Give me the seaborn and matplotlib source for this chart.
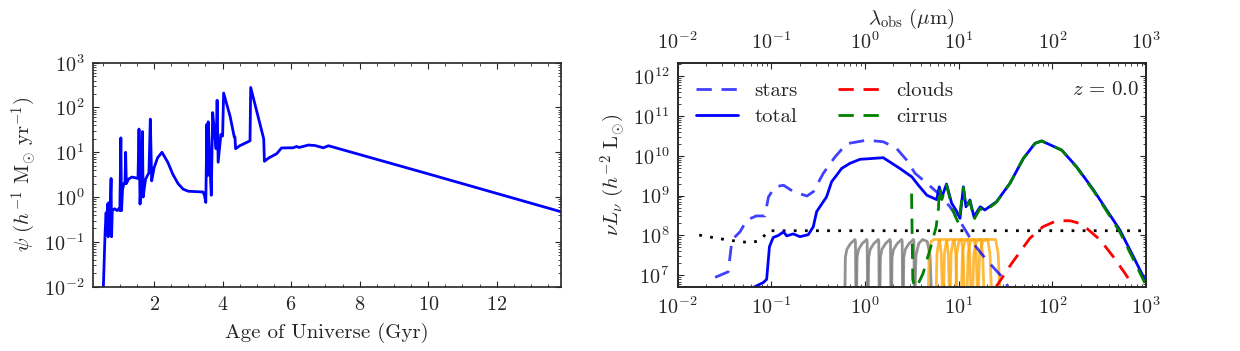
import numpy as np
import matplotlib
matplotlib.use("Agg")
import matplotlib.pyplot as plt
import seaborn as sns

# ---- left panel: star formation history (age in Gyr, SFR)
age = [0.52, 0.57, 0.60, 0.62, 0.64, 0.66, 0.68, 0.70, 0.72, 0.745, 0.76, 0.78,
       0.85, 0.92, 0.97, 1.00, 1.03, 1.05, 1.08, 1.12, 1.15, 1.17, 1.19, 1.25,
       1.35, 1.45, 1.53, 1.56, 1.59, 1.62, 1.66, 1.68, 1.75, 1.85, 1.89, 1.93,
       2.0, 2.1, 2.23, 2.4, 2.55, 2.7, 2.85, 3.0, 3.43, 3.47, 3.51, 3.54, 3.56,
       3.58, 3.62, 3.67, 3.71, 3.76, 3.81, 3.84, 3.87, 3.95, 4.0, 4.03, 4.22,
       4.34, 4.36, 4.38, 4.5, 4.8, 4.82, 5.2, 5.22, 5.35, 5.58, 5.72, 6.06,
       6.16, 6.23, 6.35, 6.5, 6.69, 6.94, 7.09, 10.0, 13.88]
sfr = [0.01, 0.16, 0.45, 0.15, 0.7, 0.13, 0.75, 0.14, 0.6, 2.6, 0.13, 0.5,
       0.55, 0.5, 0.55, 0.5, 21, 0.5, 1.5, 2.0, 2.0, 10, 2.0, 2.5,
       2.8, 2.7, 2.6, 33, 0.7, 2.5, 29, 1.0, 2.5, 3.5, 55, 2.3,
       4.5, 7.5, 10, 6.0, 3.2, 2.0, 1.5, 1.35, 1.3, 1.1, 0.76, 42, 3.0,
       48, 8.0, 1.1, 77, 30, 12, 145, 6.0, 25, 23, 210, 63,
       22, 22, 12, 14, 18, 280, 20, 6.3, 7.5, 9.3, 12.5, 12.6,
       13.5, 12.8, 13.5, 14.5, 14.2, 12.6, 14, 3.3, 0.47]

# ---- right panel: SED components, log10(lambda/um) and log10(nu L_nu)
stars_lw = [-1.60, -1.46, -1.42, -1.335, -1.26, -1.16, -1.07, -1.03, -0.96, -0.87,
            -0.765, -0.62, -0.55, -0.445, -0.32, -0.196, 0.018, 0.195, 0.338,
            0.445, 0.534, 0.66, 0.78, 0.907, 1.05, 1.156, 1.30, 1.46, 1.55]
stars_lL = [6.95, 7.09, 7.89, 8.09, 8.39, 8.49, 8.49, 8.97, 9.22, 9.26,
            9.10, 8.99, 9.10, 9.56, 9.97, 10.30, 10.39, 10.35, 10.18,
            9.89, 9.56, 9.31, 9.06, 8.72, 8.22, 7.80, 7.38, 6.97, 6.63]

total_lw = [-1.19, -1.086, -1.05, -1.02, -0.98, -0.926, -0.87, -0.836, -0.766,
            -0.694, -0.606, -0.552, -0.516, -0.41, -0.356, -0.30, -0.25, -0.16,
            -0.053, 0.195, 0.373, 0.50, 0.57, 0.66, 0.765, 0.793, 0.82, 0.87,
            0.925, 0.98, 1.014, 1.05, 1.078, 1.12, 1.163, 1.23, 1.28, 1.405,
            1.548, 1.69, 1.815, 1.886, 2.10, 2.26, 2.44, 2.58, 2.72, 2.865, 2.99]
total_lL = [6.70, 6.82, 6.90, 7.72, 7.95, 8.00, 8.09, 7.99, 8.04,
            7.97, 8.02, 8.22, 8.60, 8.97, 9.35, 9.52, 9.68, 9.81,
            9.91, 9.95, 9.68, 9.47, 9.26, 9.01, 8.90, 9.22, 8.96, 9.29,
            8.81, 8.60, 8.43, 9.22, 8.72, 8.89, 8.47, 8.72, 8.64, 8.85,
            9.31, 9.93, 10.31, 10.37, 10.14, 9.72, 9.14, 8.64, 8.14, 7.47, 6.88]

clouds_lw = [1.39, 1.566, 1.76, 1.90, 2.046, 2.19, 2.295, 2.367, 2.51, 2.65, 2.776, 2.865]
clouds_lL = [6.68, 7.30, 7.93, 8.22, 8.37, 8.37, 8.30, 8.18, 7.89, 7.47, 7.05, 6.72]

cirrus_lw = [0.497, 0.51, 0.53, 0.57, 0.62, 0.70, 0.76, 0.785, 0.793, 0.82, 0.87,
             0.925, 0.96, 1.0, 1.05, 1.078, 1.12, 1.163, 1.23, 1.28, 1.405,
             1.548, 1.69, 1.815, 1.886, 2.10, 2.26, 2.44, 2.58, 2.72, 2.865, 2.99]
cirrus_lL = [9.05, 6.9, 6.7, 6.8, 7.05, 7.7, 8.22, 8.7, 9.20, 8.9, 9.27,
             8.75, 8.5, 8.3, 9.2, 8.7, 8.87, 8.40, 8.68, 8.6, 8.84,
             9.31, 9.93, 10.31, 10.37, 10.14, 9.71, 9.12, 8.61, 8.09, 7.40, 6.80]

limit_lw = [-1.77, -1.58, -1.41, -1.23, -1.12, -1.07, -1.03, 3.0]
limit_lL = [8.01, 7.93, 7.87, 7.82, 7.87, 8.01, 8.12, 8.12]

# filter curves: left edges (log lambda) and a shared profile (offset dex, log L)
grey_edges = [-0.214, -0.089, 0.035, 0.16, 0.285, 0.41]
grey_prof_dx = [0.0, 0.004, 0.02, 0.06, 0.107, 0.112, 0.116]
grey_prof_lL = [6.6, 7.45, 7.65, 7.8, 7.9, 7.85, 6.6]
grey_last_dx = [0.0, 0.01, 0.04, 0.08, 0.13, 0.16, 0.175]
grey_last_lL = [6.6, 7.5, 7.8, 7.9, 7.85, 7.5, 6.6]
orange_edges = [0.676, 0.76, 0.84, 0.91, 0.97, 1.03, 1.09, 1.15, 1.21]
orange_width = [0.15, 0.14, 0.14, 0.15, 0.16, 0.17, 0.18, 0.2, 0.23]
orange_prof_f = [0.0, 0.06, 0.2, 0.4, 0.8, 0.92, 1.0]
orange_prof_lL = [6.6, 7.55, 7.85, 7.9, 7.9, 7.55, 6.6]

sns.set_style("ticks")
plt.rcParams.update({
    "font.family": "serif",
    "font.serif": ["cmr10", "DejaVu Serif"],
    "mathtext.fontset": "cm",
    "axes.formatter.use_mathtext": True,
    "axes.unicode_minus": True,
    "font.size": 15,
    "axes.linewidth": 1.2,
    "xtick.direction": "in",
    "ytick.direction": "in",
    "xtick.major.size": 4,
    "ytick.major.size": 4,
    "xtick.minor.size": 2,
    "ytick.minor.size": 2,
    "xtick.major.pad": 7,
    "ytick.major.pad": 6,
    "xtick.top": True,
    "ytick.right": True,
    "xtick.labelsize": 14.5,
    "ytick.labelsize": 14.5,
})

fig = plt.figure(figsize=(12.4, 3.51), dpi=100)
ax1 = fig.add_axes([0.0748, 0.1832, 0.3777, 0.6382])
ax = fig.add_axes([0.5465, 0.1832, 0.3777, 0.6382])
lw = 2.0

# left
sns.lineplot(x=age, y=sfr, ax=ax1, color="b", lw=lw, sort=False, estimator=None)
ax1.set_yscale("log")
ax1.set_xlim(0.21, 13.88)
ax1.set_ylim(1e-2, 1e3)
ax1.xaxis.set_major_locator(matplotlib.ticker.MultipleLocator(2))
ax1.xaxis.set_minor_locator(matplotlib.ticker.MultipleLocator(0.5))
ax1.set_xlabel("Age of Universe (Gyr)", fontsize=15, labelpad=6)
ax1.set_ylabel(r"$\psi\ (h^{-1}\ \mathrm{M}_{\odot}\ \mathrm{yr}^{-1})$", fontsize=15)

# right
def pow10(a):
    return 10.0 ** np.asarray(a)

for e in grey_edges:
    sns.lineplot(x=pow10(e + np.asarray(grey_prof_dx)), y=pow10(grey_prof_lL), ax=ax,
                 color="grey", alpha=0.85, lw=lw, sort=False, estimator=None)
sns.lineplot(x=pow10(0.534 + np.asarray(grey_last_dx)), y=pow10(grey_last_lL), ax=ax,
             color="grey", alpha=0.85, lw=lw, sort=False, estimator=None)
for e, w in zip(orange_edges, orange_width):
    sns.lineplot(x=pow10(e + w * np.asarray(orange_prof_f)), y=pow10(orange_prof_lL), ax=ax,
                 color="orange", alpha=0.75, lw=lw, sort=False, estimator=None)

dash = (0, (5.5, 3.5))
sns.lineplot(x=pow10(limit_lw), y=pow10(limit_lL), ax=ax, color="k", lw=lw,
             linestyle=(0, (1, 3)), sort=False, estimator=None)
sns.lineplot(x=pow10(stars_lw), y=pow10(stars_lL), ax=ax, color="b", alpha=0.75, lw=lw,
             linestyle=dash, sort=False, estimator=None, label="stars")
sns.lineplot(x=pow10(total_lw), y=pow10(total_lL), ax=ax, color="b", lw=lw,
             sort=False, estimator=None, label="total")
sns.lineplot(x=pow10(clouds_lw), y=pow10(clouds_lL), ax=ax, color="r", lw=lw,
             linestyle=dash, sort=False, estimator=None, label="clouds")
sns.lineplot(x=pow10(cirrus_lw), y=pow10(cirrus_lL), ax=ax, color="g", lw=lw,
             linestyle=dash, sort=False, estimator=None, label="cirrus")

ax.set_xscale("log")
ax.set_yscale("log")
ax.set_xlim(1e-2, 1e3)
ax.set_ylim(5.2e6, 2.15e12)
ax.yaxis.set_major_locator(matplotlib.ticker.LogLocator(base=10, numticks=20))
ax.yaxis.set_minor_locator(matplotlib.ticker.LogLocator(base=10, subs=np.arange(2, 10), numticks=20))
ax.set_ylabel(r"$\nu L_{\nu}\ (h^{-2}\ \mathrm{L}_{\odot})$", fontsize=15)
ax.tick_params(axis="x", which="both", top=False)

top = ax.twiny()
top.set_xscale("log")
top.set_xlim(1e-2, 1e3)
top.tick_params(axis="x", which="both", direction="in")
top.set_xlabel(r"$\lambda_{\mathrm{obs}}\ (\mu\mathrm{m})$", fontsize=15, labelpad=5)

handles, labels = ax.get_legend_handles_labels()
ax.legend(handles, labels, loc="upper left", ncol=2, frameon=False, fontsize=15,
          columnspacing=1.9, handlelength=2.0, borderaxespad=0.5, labelspacing=0.35)
ax.text(0.985, 0.92, r"$z\,=\,0.0$", transform=ax.transAxes, ha="right", va="top", fontsize=15)

for a in (ax1, ax, top):
    for s in a.spines.values():
        s.set_linewidth(1.2)

fig.savefig("out.png", dpi=100)
